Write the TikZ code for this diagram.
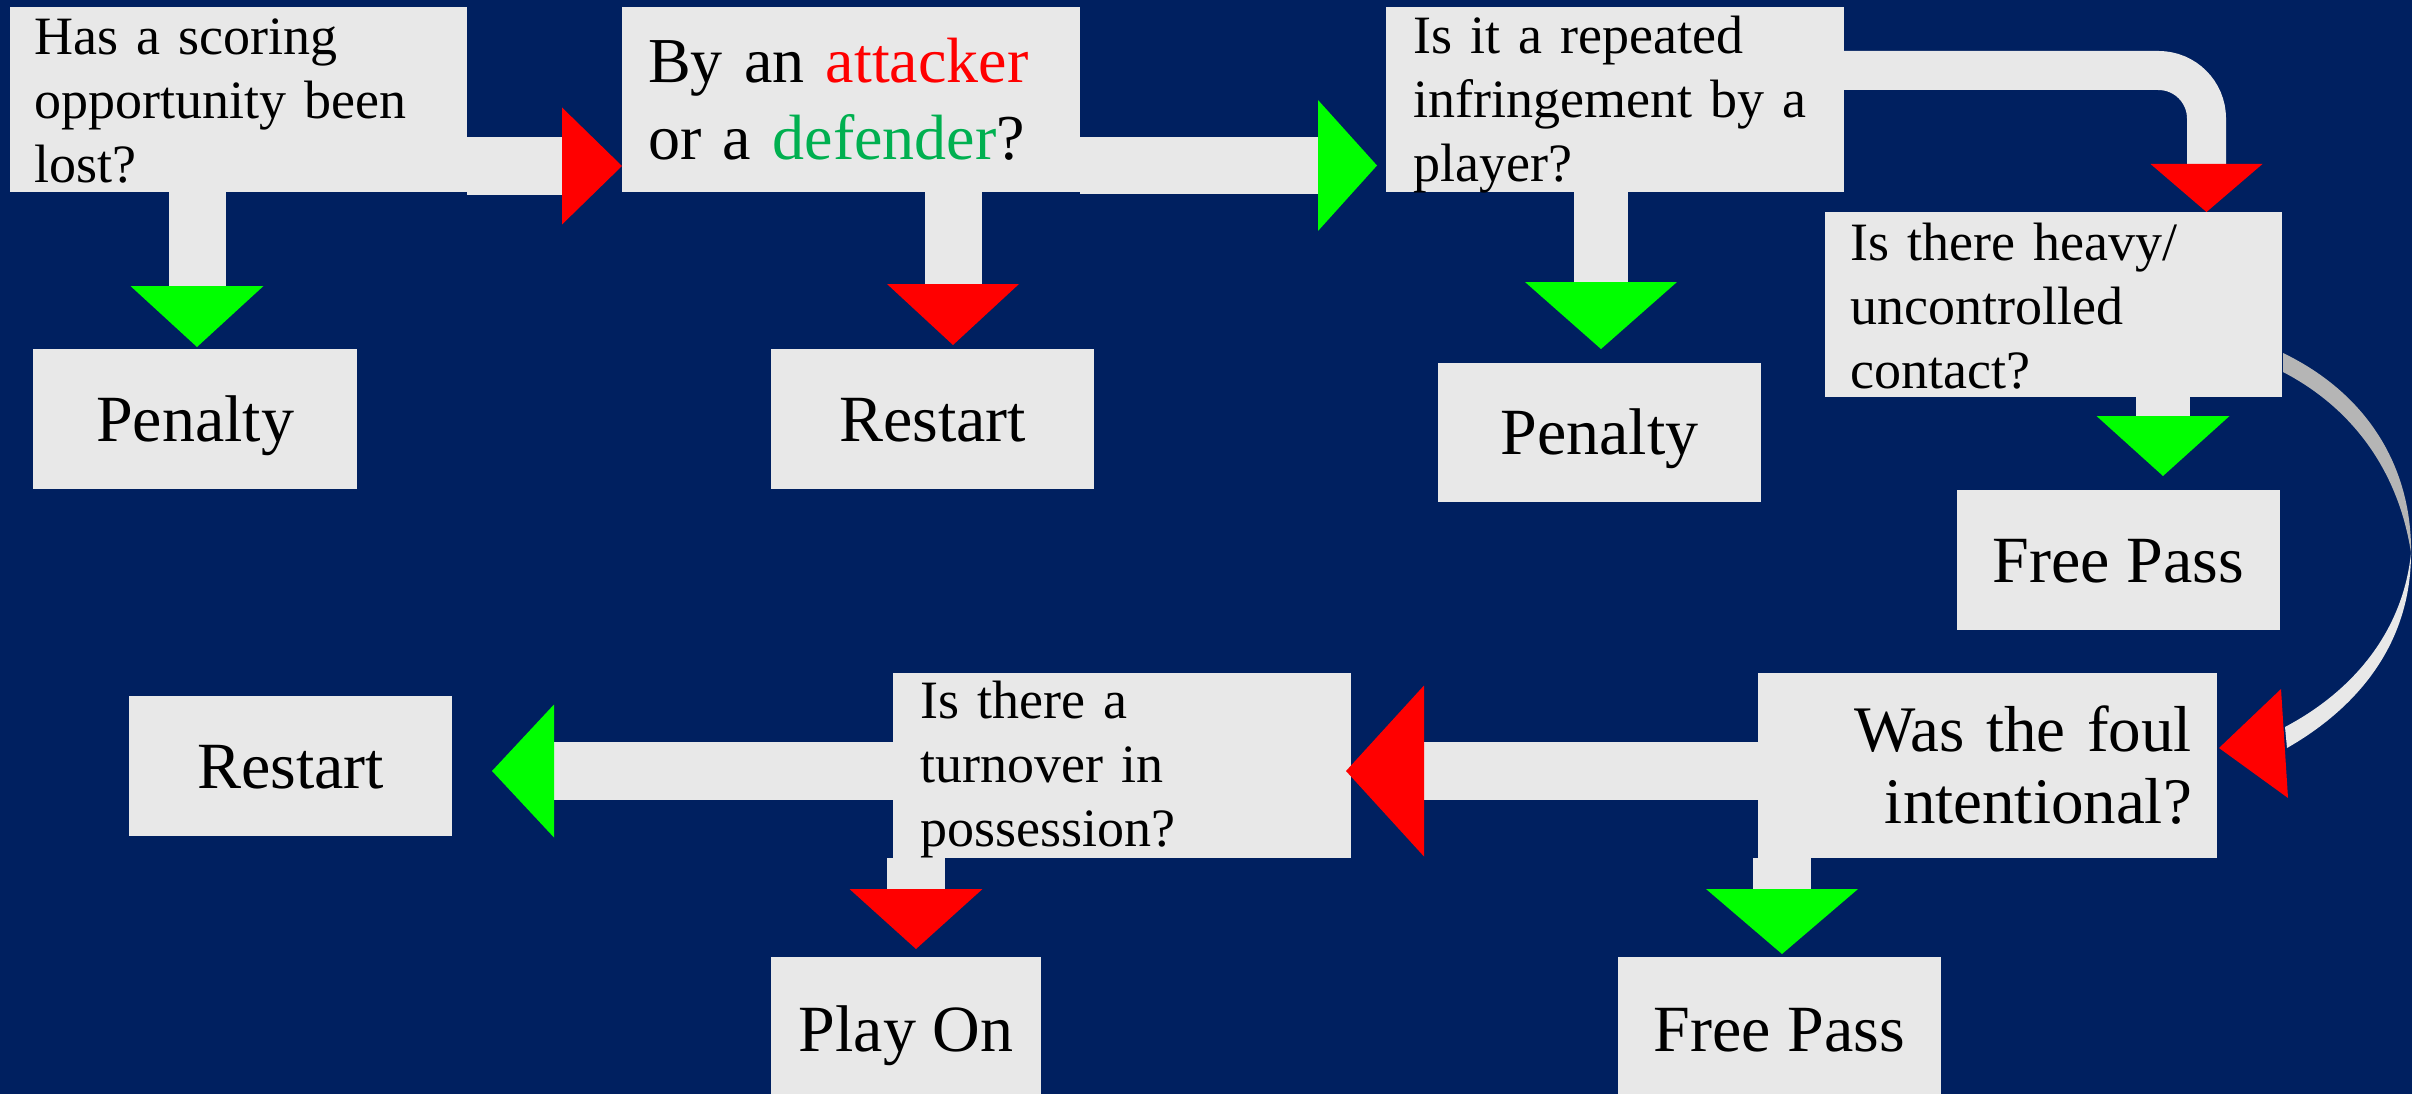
\documentclass[tikz,border=0pt]{standalone}
\usepackage{fontspec}
\setmainfont{Liberation Serif}
\usetikzlibrary{arrows.meta}
\definecolor{navy}{RGB}{0,32,96}
\definecolor{boxgray}{RGB}{232,232,232}
\definecolor{ribbondark}{RGB}{181,181,181}
\definecolor{yesgreen}{RGB}{0,255,0}
\definecolor{nored}{RGB}{255,0,0}
\definecolor{defgreen}{RGB}{0,176,80}
\begin{document}
\begin{tikzpicture}[x=1pt,y=-1pt,
  box/.style={fill=boxgray, draw=none, inner sep=0pt, outer sep=0pt},
  qtext/.style={inner sep=0pt, text width=#1, align=left, font=\fontsize{54}{64}\selectfont},
  ans/.style={font=\fontsize{66}{77}\selectfont, text height=44pt, text depth=0pt},
  bar/.style={draw=boxgray, line width=#1},
  tipR/.style 2 args={-{Triangle[length=#1pt, width=#2pt, line width=0pt, fill=nored, color=nored]}},
  tipG/.style 2 args={-{Triangle[length=#1pt, width=#2pt, line width=0pt, fill=yesgreen, color=yesgreen]}},
]
\clip (0,0) rectangle (2412,1094);
\fill[navy] (0,0) rectangle (2412,1094);

% question boxes
\node[box, minimum width=457pt, minimum height=185pt] (b1) at (238.5,99.5) {};
\node[box, minimum width=458pt, minimum height=185pt] (b2) at (851,99.5) {};
\node[box, minimum width=458pt, minimum height=185pt] (b3) at (1615,99.5) {};
\node[box, minimum width=457pt, minimum height=185pt] (b4) at (2053.5,304.5) {};
\node[box, minimum width=459pt, minimum height=185pt] (b6) at (1987.5,765.5) {};
\node[box, minimum width=458pt, minimum height=185pt] (b5) at (1122,765.5) {};

% answer boxes
\node[box, ans, minimum width=324pt, minimum height=140pt] (pen1) at (195,419) {Penalty};
\node[box, ans, minimum width=323pt, minimum height=140pt] (rst1) at (932.5,419) {Restart};
\node[box, ans, minimum width=323pt, minimum height=139pt] (pen2) at (1599.5,432.5) {Penalty};
\node[box, ans, minimum width=323pt, minimum height=140pt] (fp1) at (2118.5,560) {Free Pass};
\node[box, ans, minimum width=323pt, minimum height=140pt] (rst2) at (290.5,766) {Restart};
\node[box, ans, minimum width=270pt, minimum height=144pt] (playon) at (906,1029) {Play On};
\node[box, ans, minimum width=323pt, minimum height=144pt] (fp2) at (1779.5,1029) {Free Pass};

% question texts
\node[qtext=440pt, anchor=base west] (t1) at ([shift={(24,48)}]b1.north west)
  {Has a scoring\\opportunity been\\lost?};
\node[qtext=440pt, font=\fontsize{64}{77}\selectfont, anchor=base west] (t2) at ([shift={(26,76)}]b2.north west)
  {By an \textcolor{nored}{attacker}\\or a \textcolor{defgreen}{defender}?};
\node[qtext=440pt, anchor=base west] (t3) at ([shift={(27,47)}]b3.north west)
  {Is it a repeated\\infringement by a\\player?};
\node[qtext=440pt, anchor=base west] (t4) at ([shift={(25,48)}]b4.north west)
  {Is there heavy/\\uncontrolled\\contact?};
\node[qtext=440pt, anchor=base west] (t5) at ([shift={(27,45)}]b5.north west)
  {Is there a\\turnover in\\possession?};
\node[qtext=420pt, align=right, font=\fontsize{65}{72}\selectfont, anchor=base east] (t6) at ([shift={(-25,78)}]b6.north east)
  {Was the foul\\intentional?};

% connectors
\draw[bar=58pt, tipR={60}{117}] ([shift={(0,66.5)}]b1.east) -- ([shift={(0,66.5)}]b2.west);
\draw[bar=57pt, tipG={59}{131}, shorten >=9pt] ([shift={(0,66)}]b2.east) -- ([shift={(0,66)}]b3.west);
\draw[bar=57pt, tipG={61}{133}, shorten >=2pt] ([shift={(-41.5,0)}]b1.south) coordinate (s1) -- (s1 |- pen1.north);
\draw[bar=57pt, tipR={61}{132}, shorten >=4pt] ([shift={(102,0)}]b2.south) coordinate (s2) -- (s2 |- rst1.north);
\draw[bar=54pt, tipG={67}{152}, shorten >=14pt] ([shift={(-14,0)}]b3.south) coordinate (s3) -- (s3 |- pen2.north);
\draw[bar=39pt, rounded corners=48pt, tipR={48}{112}] ([shift={(0,-29)}]b3.east) -| ([shift={(153,0)}]b4.north);
\draw[bar=54pt, tipG={60}{133}, shorten >=14pt] ([shift={(109.5,0)}]b4.south) coordinate (s4) -- (s4 |- fp1.north);
\draw[bar=58pt, tipR={78}{171}] ([shift={(0,5.5)}]b6.west) -- ([shift={(-5,5.5)}]b5.east);
\draw[bar=58pt, tipG={62}{133}, shorten >=40pt] ([shift={(0,5.5)}]b5.west) -- ([shift={(0,5)}]rst2.east);
\draw[bar=58pt, tipR={60}{133}, shorten >=8pt] ([shift={(-206,0)}]b5.south) coordinate (s5) -- (s5 |- playon.north);
\draw[bar=58pt, tipG={65}{152}, shorten >=3pt] ([shift={(-205.5,0)}]b6.south) coordinate (s6) -- (s6 |- fp2.north);

% curved ribbon connector from b4 to b6
\fill[ribbondark] ([shift={(1,48.5)}]b4.east) coordinate (r0)
  .. controls (2370,395) and (2412,470) .. (2411,553)
  .. controls (2400,480) and (2360,412) .. ([shift={(1,67.5)}]b4.east) -- cycle;
\fill[boxgray] (2411,553)
  .. controls (2411,640) and (2362,705) .. (2287,748)
  -- (2285,727)
  .. controls (2355,690) and (2403,630) .. (2411,553) -- cycle;
\fill[nored] (2281,689) -- ([shift={(2,-17.5)}]b6.east) -- (2288,798) -- cycle;
\end{tikzpicture}
\end{document}
